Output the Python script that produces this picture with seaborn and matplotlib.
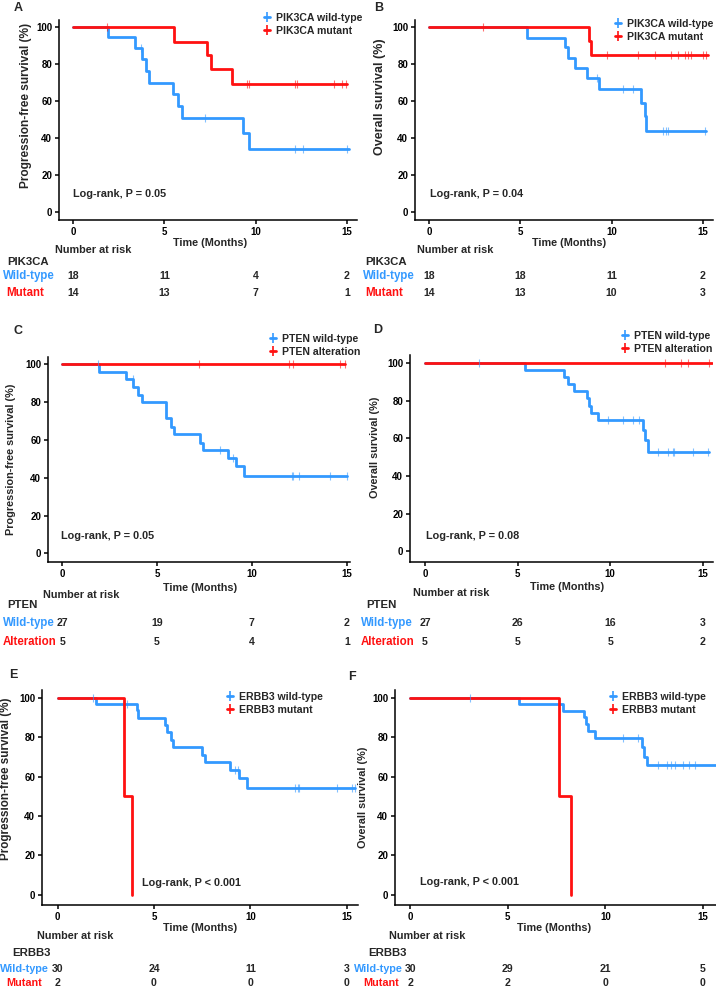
import numpy as np
import pandas as pd
import seaborn as sns
import matplotlib.pyplot as plt
from matplotlib.lines import Line2D

# Colores y datos
BLUE = '#3399ff'
RED = '#ff1111'
time_ticks = [0, 5, 10, 15]

# Panel A: PFS segun PIK3CA
A_wt_t = [1.92, 3.38, 3.75, 4.02, 4.17, 5.49, 5.76, 5.95, 9.29, 9.66]
A_wt_s = [94.4, 88.9, 82.5, 76.2, 69.7, 63.6, 57.1, 51.0, 42.9, 34.2]
A_wt_cens = [3.7, 7.2, 12.16, 12.6, 15.0]
A_wt_end = 15.1
A_mu_t = [5.52, 7.35, 7.54, 8.73]
A_mu_s = [92.1, 84.7, 77.1, 69.4]
A_mu_cens = [1.87, 9.51, 9.66, 12.13, 12.26, 14.27, 14.72, 14.95]
A_mu_end = 15.0
A_risk_wt = [18, 11, 4, 2]
A_risk_mu = [14, 13, 7, 1]

# Panel B: OS segun PIK3CA
B_wt_t = [5.36, 7.44, 7.61, 7.98, 8.65, 9.33, 11.62, 11.80, 11.89]
B_wt_s = [94.2, 89.2, 83.4, 77.8, 72.4, 66.7, 58.9, 51.7, 43.6]
B_wt_cens = [9.18, 10.6, 11.16, 12.8, 12.99, 13.1, 15.1]
B_wt_end = 15.15
B_mu_t = [8.74, 8.87]
B_mu_s = [92.4, 84.7]
B_mu_cens = [2.93, 9.75, 11.43, 12.35, 13.26, 13.63, 14.0, 14.18, 14.36, 15.0, 15.15]
B_mu_end = 15.27
B_risk_wt = [18, 18, 11, 2]
B_risk_mu = [14, 13, 10, 3]

# Panel C: PFS segun PTEN
C_wt_t = [1.95, 3.36, 3.75, 3.97, 4.18, 5.45, 5.72, 5.89, 7.28, 7.44, 8.72, 9.16, 9.6]
C_wt_s = [96.1, 92.1, 87.8, 83.8, 79.9, 71.4, 67.0, 63.0, 58.2, 54.7, 50.6, 46.2, 41.1]
C_wt_cens = [1.86, 3.71, 8.32, 9.02, 12.1, 12.19, 12.5, 14.1, 15.0]
C_wt_end = 15.0
C_al_t = []
C_al_s = []
C_al_cens = [7.23, 11.97, 12.19, 14.65, 14.9]
C_al_end = 14.9
C_risk_wt = [27, 19, 7, 2]
C_risk_al = [5, 5, 4, 1]

# Panel D: OS segun PTEN
D_wt_t = [5.42, 7.53, 7.71, 8.07, 8.75, 8.88, 8.97, 9.33, 11.76, 11.9, 12.03]
D_wt_s = [96.4, 92.9, 89.0, 85.3, 81.4, 77.3, 73.4, 69.8, 64.5, 59.1, 52.9]
D_wt_cens = [2.94, 9.87, 10.68, 11.22, 11.54, 12.57, 13.11, 13.38, 13.47, 14.46, 15.27]
D_wt_end = 15.32
D_al_t = []
D_al_s = []
D_al_cens = [12.98, 13.83, 14.19, 15.32]
D_al_end = 15.5
D_risk_wt = [27, 26, 16, 3]
D_risk_al = [5, 5, 5, 2]

# Panel E: PFS segun ERBB3
E_wt_t = [1.97, 4.1, 4.19, 5.57, 5.66, 5.86, 6.0, 7.47, 7.64, 8.94, 9.43, 9.84]
E_wt_s = [96.7, 93.8, 89.9, 86.1, 82.4, 78.5, 74.8, 70.9, 67.2, 63.3, 59.1, 54.4]
E_wt_cens = [1.82, 3.58, 9.2, 9.38, 12.32, 12.46, 12.54, 14.48, 15.26, 15.4]
E_wt_end = 15.43
E_mu_t = [3.44, 3.84]
E_mu_s = [50.0, 0.0]
E_mu_cens = []
E_mu_end = 3.84
E_risk_wt = [30, 24, 11, 3]
E_risk_mu = [2, 0, 0, 0]

# Panel F: OS segun ERBB3
F_wt_t = [5.59, 7.82, 8.89, 9.01, 9.13, 9.49, 11.87, 12.0, 12.13]
F_wt_s = [96.6, 93.4, 90.0, 86.5, 83.1, 79.4, 75.2, 70.1, 65.9]
F_wt_cens = [3.08, 10.89, 11.66, 12.69, 13.17, 13.38, 13.6, 13.97, 14.32, 14.58]
F_wt_end = 15.68
F_mu_t = [7.65, 8.24]
F_mu_s = [50.0, 0.0]
F_mu_cens = []
F_mu_end = 8.24
F_risk_wt = [30, 29, 21, 5]
F_risk_mu = [2, 2, 0, 0]

sns.set_style('white')
plt.rcParams['font.family'] = ['Liberation Sans', 'DejaVu Sans']
plt.rcParams['font.weight'] = 'bold'

W, H = 716, 988
fig = plt.figure(figsize=(W / 100, H / 100), dpi=100)


def fx(x):
    return x / W


def fy(y):
    return 1 - y / H


def km_df(t, s, end):
    times = [0] + list(t) + [end]
    surv = [100] + list(s) + [s[-1] if len(s) else 100]
    return pd.DataFrame({'time': times, 'surv': surv})


def surv_at(t, s, x):
    v = 100
    for ti, si in zip(t, s):
        if x >= ti:
            v = si
    return v


def draw_curve(ax, t, s, cens, end, color):
    df = km_df(t, s, end)
    sns.lineplot(data=df, x='time', y='surv', ax=ax, color=color, lw=2.0,
                 drawstyle='steps-post', estimator=None, sort=False)
    if cens:
        cdf = pd.DataFrame({'time': cens, 'surv': [surv_at(t, s, c) for c in cens]})
        sns.scatterplot(data=cdf, x='time', y='surv', ax=ax, marker='|', s=30,
                        color=color, linewidth=0.8, alpha=0.6, zorder=3)


panels = [
    dict(letter='A', box=(59, 357, 20, 220), xlim=(-0.77, 15.55), ylim=(-4.3, 103.8),
         curves=[(A_wt_t, A_wt_s, A_wt_cens, A_wt_end, BLUE), (A_mu_t, A_mu_s, A_mu_cens, A_mu_end, RED)],
         ylabel='Progression-free survival (%)', ylab_pos=(32, 105), ylab_fs=8.6,
         letter_pos=(18, 8), logrank='Log-rank, P = 0.05', lr_pos=(73, 194),
         legend=['PIK3CA wild-type', 'PIK3CA mutant'], leg_pos=(264, 13),
         xlab_pos=(210, 243), nar_pos=(55, 250), gene='PIK3CA', gene_pos=(7, 262),
         groups=['Wild-type', 'Mutant'], grp_x=[3, 6], grp_y=[276, 293],
         risk=[A_risk_wt, A_risk_mu]),
    dict(letter='B', box=(415, 713, 20, 220), xlim=(-0.77, 15.55), ylim=(-4.3, 103.8),
         curves=[(B_wt_t, B_wt_s, B_wt_cens, B_wt_end, BLUE), (B_mu_t, B_mu_s, B_mu_cens, B_mu_end, RED)],
         ylabel='Overall survival (%)', ylab_pos=(386, 97), ylab_fs=9.0,
         letter_pos=(379, 8), logrank='Log-rank, P = 0.04', lr_pos=(430, 194),
         legend=['PIK3CA wild-type', 'PIK3CA mutant'], leg_pos=(615, 19),
         xlab_pos=(569, 243), nar_pos=(417, 250), gene='PIK3CA', gene_pos=(365, 262),
         groups=['Wild-type', 'Mutant'], grp_x=[363, 365], grp_y=[276, 293],
         risk=[B_risk_wt, B_risk_mu]),
    dict(letter='C', box=(48, 350, 357, 562), xlim=(-0.75, 15.17), ylim=(-4.6, 103.9),
         curves=[(C_wt_t, C_wt_s, C_wt_cens, C_wt_end, BLUE), (C_al_t, C_al_s, C_al_cens, C_al_end, RED)],
         ylabel='Progression-free survival (%)', ylab_pos=(16, 459), ylab_fs=7.8,
         letter_pos=(18, 331), logrank='Log-rank, P = 0.05', lr_pos=(61, 536),
         legend=['PTEN wild-type', 'PTEN alteration'], leg_pos=(270, 334),
         xlab_pos=(200, 588), nar_pos=(43, 595), gene='PTEN', gene_pos=(7, 605),
         groups=['Wild-type', 'Alteration'], grp_x=[3, 3], grp_y=[623, 642],
         risk=[C_risk_wt, C_risk_al]),
    dict(letter='D', box=(410, 713, 355, 562), xlim=(-0.81, 15.56), ylim=(-5.7, 104.4),
         curves=[(D_wt_t, D_wt_s, D_wt_cens, D_wt_end, BLUE), (D_al_t, D_al_s, D_al_cens, D_al_end, RED)],
         ylabel='Overall survival (%)', ylab_pos=(380, 447), ylab_fs=7.8,
         letter_pos=(378, 330), logrank='Log-rank, P = 0.08', lr_pos=(426, 536),
         legend=['PTEN wild-type', 'PTEN alteration'], leg_pos=(622, 331),
         xlab_pos=(567, 587), nar_pos=(413, 593), gene='PTEN', gene_pos=(366, 605),
         groups=['Wild-type', 'Alteration'], grp_x=[361, 361], grp_y=[623, 642],
         risk=[D_risk_wt, D_risk_al]),
    dict(letter='E', box=(42, 358, 690, 905), xlim=(-0.81, 15.58), ylim=(-5.1, 103.9),
         curves=[(E_wt_t, E_wt_s, E_wt_cens, E_wt_end, BLUE), (E_mu_t, E_mu_s, E_mu_cens, E_mu_end, RED)],
         ylabel='Progression-free survival (%)', ylab_pos=(12, 779), ylab_fs=8.4,
         letter_pos=(13, 675), logrank='Log-rank, P < 0.001', lr_pos=(142, 883),
         legend=['ERBB3 wild-type', 'ERBB3 mutant'], leg_pos=(227, 692),
         xlab_pos=(200, 928), nar_pos=(37, 936), gene='ERBB3', gene_pos=(12, 953),
         groups=['Wild-type', 'Mutant'], grp_x=[49, 42], grp_y=[969, 983], grp_ha='right',
         grp_fs=7.8, risk=[E_risk_wt, E_risk_mu]),
    dict(letter='F', box=(395, 716, 690, 905), xlim=(-0.79, 15.68), ylim=(-5.1, 103.9),
         curves=[(F_wt_t, F_wt_s, F_wt_cens, F_wt_end, BLUE), (F_mu_t, F_mu_s, F_mu_cens, F_mu_end, RED)],
         ylabel='Overall survival (%)', ylab_pos=(368, 797), ylab_fs=7.8,
         letter_pos=(352, 677), logrank='Log-rank, P < 0.001', lr_pos=(420, 882),
         legend=['ERBB3 wild-type', 'ERBB3 mutant'], leg_pos=(610, 692),
         xlab_pos=(554, 928), nar_pos=(389, 936), gene='ERBB3', gene_pos=(368, 953),
         groups=['Wild-type', 'Mutant'], grp_x=[403, 399], grp_y=[969, 983], grp_ha='right',
         grp_fs=7.8, risk=[F_risk_wt, F_risk_mu]),
]

TICK_FS = 7.0
TXT_FS = 7.8
for p in panels:
    l, r, t, b = p['box']
    ax = fig.add_axes([fx(l), fy(b), fx(r - l), (b - t) / H])
    for c in p['curves']:
        draw_curve(ax, *c)
    ax.set_xlim(*p['xlim'])
    ax.set_ylim(*p['ylim'])
    ax.set_xticks(time_ticks)
    ax.set_yticks([0, 20, 40, 60, 80, 100])
    ax.tick_params(axis='both', direction='out', length=3, width=1.1, labelsize=TICK_FS,
                   left=True, bottom=True, pad=2, colors='black')
    for lab in ax.get_xticklabels() + ax.get_yticklabels():
        lab.set_fontweight('bold')
    sns.despine(ax=ax)
    for sp in ['left', 'bottom']:
        ax.spines[sp].set_linewidth(1.1)
        ax.spines[sp].set_color('black')
    ax.set_xlabel('')
    ax.set_ylabel(p['ylabel'], fontsize=p['ylab_fs'], fontweight='bold')
    ax.yaxis.set_label_coords(fx(p['ylab_pos'][0]), fy(p['ylab_pos'][1]), transform=fig.transFigure)
    ax.text(fx(p['lr_pos'][0]), fy(p['lr_pos'][1]), p['logrank'], transform=fig.transFigure,
            fontsize=TXT_FS, fontweight='bold', va='center', ha='left')

    fig.text(fx(p['letter_pos'][0]), fy(p['letter_pos'][1]), p['letter'], fontsize=9,
             fontweight='bold', va='center', ha='center')
    fig.text(fx(p['xlab_pos'][0]), fy(p['xlab_pos'][1]), 'Time (Months)', fontsize=TXT_FS,
             fontweight='bold', va='center', ha='center')
    fig.text(fx(p['nar_pos'][0]), fy(p['nar_pos'][1]), 'Number at risk', fontsize=TXT_FS,
             fontweight='bold', va='center', ha='left')
    fig.text(fx(p['gene_pos'][0]), fy(p['gene_pos'][1]), p['gene'], fontsize=8.2,
             fontweight='bold', va='center', ha='left')

    # tabla de pacientes en riesgo, alineada con los ticks del eje x
    ha = p.get('grp_ha', 'left')
    gfs = p.get('grp_fs', 8.3)
    for gname, gx, gy, counts, col in zip(p['groups'], p['grp_x'], p['grp_y'], p['risk'], [BLUE, RED]):
        fig.text(fx(gx), fy(gy), gname, color=col, fontsize=gfs, fontweight='bold',
                 va='center', ha=ha)
        for tk, n in zip(time_ticks, counts):
            xf = fig.transFigure.inverted().transform(ax.transData.transform((tk, 0)))[0]
            fig.text(xf, fy(gy), str(n), fontsize=7.6, fontweight='bold', va='center', ha='center')

    handles = [Line2D([0], [0], color=col, lw=2, marker='|', markersize=7, markeredgewidth=1.2)
               for col in [BLUE, RED]]
    fig.legend(handles, p['legend'], loc='upper left',
               bbox_to_anchor=(fx(p['leg_pos'][0]), fy(p['leg_pos'][1])),
               frameon=False, handlelength=0.6, handletextpad=0.5,
               labelspacing=0.3, borderpad=0, borderaxespad=0,
               prop={'weight': 'bold', 'size': 7.6})

fig.savefig('out.png', dpi=100)
